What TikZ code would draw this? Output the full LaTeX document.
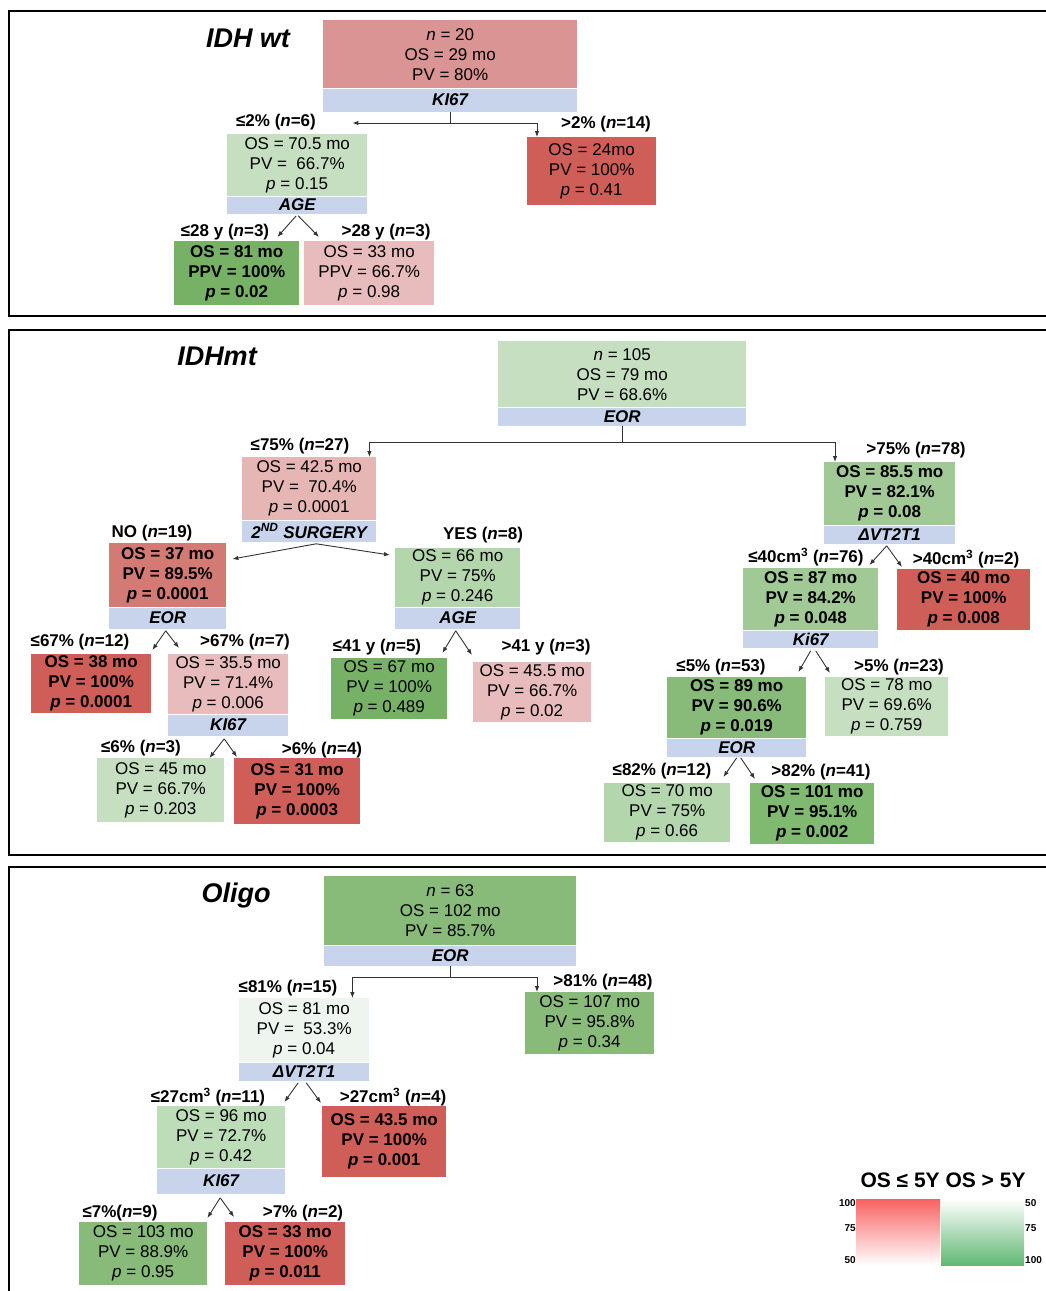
\documentclass[tikz,border=0pt]{standalone}
\usepackage{fontspec}
\setmainfont{Liberation Sans}
\usetikzlibrary{positioning,arrows.meta}

\definecolor{bandblue}{HTML}{C8D4EC}
\definecolor{rosy}{HTML}{DA9494}
\definecolor{redA}{HTML}{CF5E58}
\definecolor{redB}{HTML}{D47A74}
\definecolor{pinkA}{HTML}{E8BCBC}
\definecolor{pinkB}{HTML}{E6B6B5}
\definecolor{greenL}{HTML}{C6DFC1}
\definecolor{greenM}{HTML}{B3D6AC}
\definecolor{greenA}{HTML}{A1C995}
\definecolor{greenB}{HTML}{88BB7A}
\definecolor{greenC}{HTML}{76B166}
\definecolor{greenD}{HTML}{80B970}
\definecolor{greenE}{HTML}{BDDCB8}
\definecolor{mint}{HTML}{EEF5EF}
\definecolor{legRed}{HTML}{F86262}
\definecolor{legGreen}{HTML}{60B873}

\begin{document}
\begin{tikzpicture}[x=1pt, y=-1pt,
    cell/.style={anchor=north west, inner sep=0pt, align=center, font=\fontsize{17}{20}\selectfont},
    cellb/.style={cell, font=\fontsize{17}{20}\selectfont\bfseries},
    band/.style={fill=bandblue, inner sep=0pt, minimum height=18pt, font=\fontsize{17}{20}\selectfont\bfseries\itshape},
    lbl/.style={inner sep=0pt, font=\fontsize{17}{20}\selectfont\bfseries},
    ttl/.style={inner sep=0pt, font=\fontsize{27}{30}\selectfont\bfseries\itshape},
    num/.style={inner sep=0pt, font=\fontsize{10}{12}\selectfont\bfseries},
    arr/.style={-{Latex[length=6pt,width=4.5pt]}, draw=black!80, line width=0.9pt},
    frm/.style={draw=black, line width=1.8pt}]
\useasboundingbox (0,0) rectangle (1046,1291);

% IDH wt
\draw[frm] (9,11) rectangle (1060,316);
\node[ttl] (wtT) at (248,38) {IDH wt};
\node[cell, fill=rosy, minimum width=254pt, minimum height=68pt] (wt) at (323,20) {\textit{n} = 20\\OS = 29 mo\\PV = 80\%};
\node[band, minimum width=254pt, minimum height=23pt, below=0pt of wt] (wtK) {KI67};
\node[cell, fill=greenL, minimum width=140pt, minimum height=62pt] (wtA) at (227,134) {OS = 70.5 mo\\PV = \ 66.7\%\\\textit{p} = 0.15};
\node[band, minimum width=140pt, minimum height=17pt, below=0pt of wtA] (wtAge) {AGE};
\node[cell, fill=redA, minimum width=129pt, minimum height=68pt] (wtB) at (527,137) {OS = 24mo\\PV = 100\%\\\textit{p} = 0.41};
\node[cellb, fill=greenC, minimum width=125pt, minimum height=64pt] (wtA1) at (174,241) {OS = 81 mo\\PPV = 100\%\\\textit{p} = 0.02};
\node[cell, fill=pinkA, minimum width=130pt, minimum height=64pt] (wtA2) at (304,241) {OS = 33 mo\\PPV = 66.7\%\\\textit{p} = 0.98};
\node[lbl] (lwtA) at (276,122) {≤2\% (\textit{n}=6)};
\node[lbl] (lwtB) at (606,124) {>2\% (\textit{n}=14)};
\node[lbl] (lwtA1) at (225,232) {≤28 y (\textit{n}=3)};
\node[lbl] (lwtA2) at (386,232) {>28 y (\textit{n}=3)};
\draw[arr] (wtK.south) |- ([xshift=-15pt,yshift=11pt]wtA.north east);
\draw[arr] (wtK.south) -- ++(0,12) -| ([xshift=10pt]wtB.north west);
\draw[arr] ([xshift=-1pt,yshift=-2pt]wtAge.south) -- ([xshift=-22pt,yshift=4pt]wtA1.north east);
\draw[arr] ([xshift=1pt,yshift=-2pt]wtAge.south) -- ([xshift=15pt,yshift=4pt]wtA2.north west);

% IDHmt
\draw[frm] (9,330) rectangle (1060,855);
\node[ttl] (mtT) at (217,356) {IDHmt};
\node[cell, fill=greenL, minimum width=248pt, minimum height=66pt] (mt) at (498,341) {\textit{n} = 105\\OS = 79 mo\\PV = 68.6\%};
\node[band, minimum width=248pt, below=0pt of mt] (mtE) {EOR};
% low resection
\node[cell, fill=pinkB, minimum width=134pt, minimum height=63pt] (mtA) at (242,457) {OS = 42.5 mo\\PV = \ 70.4\%\\\textit{p} = 0.0001};
\node[band, minimum width=134pt, minimum height=21pt, below=0pt of mtA] (mtS) {2\textsuperscript{ND} SURGERY};
\node[cellb, fill=redB, minimum width=117pt, minimum height=64pt] (mtNo) at (109,543) {OS = 37 mo\\PV = 89.5\%\\\textit{p} = 0.0001};
\node[band, minimum width=117pt, minimum height=21pt, below=0pt of mtNo] (mtNoE) {EOR};
\node[cell, fill=greenM, minimum width=125pt, minimum height=59pt] (mtYes) at (395,548) {OS = 66 mo\\PV = 75\%\\\textit{p} = 0.246};
\node[band, minimum width=125pt, minimum height=21pt, below=0pt of mtYes] (mtYesA) {AGE};
\node[cellb, fill=redA, minimum width=120pt, minimum height=59pt] (mtNo1) at (31,654) {OS = 38 mo\\PV = 100\%\\\textit{p} = 0.0001};
\node[cell, fill=pinkA, minimum width=120pt, minimum height=60pt] (mtNo2) at (168,654) {OS = 35.5 mo\\PV = 71.4\%\\\textit{p} = 0.006};
\node[band, minimum width=120pt, minimum height=21pt, below=0pt of mtNo2] (mtNoK) {KI67};
\node[cell, fill=greenL, minimum width=127pt, minimum height=64pt] (mtK1) at (97,758) {OS = 45 mo\\PV = 66.7\%\\\textit{p} = 0.203};
\node[cellb, fill=redA, minimum width=126pt, minimum height=66pt] (mtK2) at (234,758) {OS = 31 mo\\PV = 100\%\\\textit{p} = 0.0003};
\node[cell, fill=greenC, minimum width=116pt, minimum height=61pt] (mtY1) at (331,658) {OS = 67 mo\\PV = 100\%\\\textit{p} = 0.489};
\node[cell, fill=pinkA, minimum width=118pt, minimum height=60pt] (mtY2) at (473,662) {OS = 45.5 mo\\PV = 66.7\%\\\textit{p} = 0.02};
% high resection
\node[cellb, fill=greenA, minimum width=131pt, minimum height=63pt] (mtB) at (824,462) {OS = 85.5 mo\\PV = 82.1\%\\\textit{p} = 0.08};
\node[band, minimum width=131pt, below=0pt of mtB] (mtV) {ΔVT2T1};
\node[cellb, fill=greenA, minimum width=135pt, minimum height=62pt] (mtV1) at (743,568) {OS = 87 mo\\PV = 84.2\%\\\textit{p} = 0.048};
\node[band, minimum width=135pt, minimum height=17pt, below=0pt of mtV1] (mtVK) {Ki67};
\node[cellb, fill=redA, minimum width=133pt, minimum height=61pt] (mtV2) at (897,569) {OS = 40 mo\\PV = 100\%\\\textit{p} = 0.008};
\node[cellb, fill=greenB, minimum width=139pt, minimum height=61pt] (mtK5) at (667,677) {OS = 89 mo\\PV = 90.6\%\\\textit{p} = 0.019};
\node[band, minimum width=139pt, below=0pt of mtK5] (mtK5E) {EOR};
\node[cell, fill=greenL, minimum width=123pt, minimum height=59pt] (mtK6) at (825,677) {OS = 78 mo\\PV = 69.6\%\\\textit{p} = 0.759};
\node[cell, fill=greenM, minimum width=126pt, minimum height=59pt] (mtE1) at (604,783) {OS = 70 mo\\PV = 75\%\\\textit{p} = 0.66};
\node[cellb, fill=greenD, minimum width=124pt, minimum height=61pt] (mtE2) at (750,783) {OS = 101 mo\\PV = 95.1\%\\\textit{p} = 0.002};
\node[lbl] (lmtA) at (300,446) {≤75\% (\textit{n}=27)};
\node[lbl] (lmtB) at (916,450) {>75\% (\textit{n}=78)};
\node[lbl] (lmtNo) at (152,533) {NO (\textit{n}=19)};
\node[lbl] (lmtYes) at (483,535) {YES (\textit{n}=8)};
\node[lbl] (lmtNo1) at (80,642) {≤67\% (\textit{n}=12)};
\node[lbl] (lmtNo2) at (245,642) {>67\% (\textit{n}=7)};
\node[lbl] (lmtK1) at (141,748) {≤6\% (\textit{n}=3)};
\node[lbl] (lmtK2) at (322,750) {>6\% (\textit{n}=4)};
\node[lbl] (lmtY1) at (377,647) {≤41 y (\textit{n}=5)};
\node[lbl] (lmtY2) at (546,647) {>41 y (\textit{n}=3)};
\node[lbl] (lmtV1) at (806,557) {≤40cm\textsuperscript{3} (\textit{n}=76)};
\node[lbl] (lmtV2) at (966,559) {>40cm\textsuperscript{3} (\textit{n}=2)};
\node[lbl] (lmtK5) at (721,667) {≤5\% (\textit{n}=53)};
\node[lbl] (lmtK6) at (899,667) {>5\% (\textit{n}=23)};
\node[lbl] (lmtE1) at (662,771) {≤82\% (\textit{n}=12)};
\node[lbl] (lmtE2) at (821,772) {>82\% (\textit{n}=41)};
\draw[arr] (mtE.south) -- ++(0,17) -| ([xshift=-7pt]mtA.north east);
\draw[arr] (mtE.south) -- ++(0,17) -| ([xshift=11pt]mtB.north west);
\draw[arr] ([xshift=7pt,yshift=-2pt]mtS.south) -- ([xshift=6pt,yshift=-16pt]mtNo.north east);
\draw[arr] ([xshift=7pt,yshift=-2pt]mtS.south) -- ([xshift=-5pt,yshift=-7pt]mtYes.north west);
\draw[arr] ([xshift=-2pt,yshift=-2pt]mtNoE.south) -- ([xshift=1pt,yshift=4pt]mtNo1.north east);
\draw[arr] ([xshift=-2pt,yshift=-2pt]mtNoE.south) -- ([xshift=11pt,yshift=6pt]mtNo2.north west);
\draw[arr] ([xshift=-4pt,yshift=-3pt]mtNoK.south) -- ([xshift=-15pt]mtK1.north east);
\draw[arr] ([xshift=-4pt,yshift=-3pt]mtNoK.south) -- ([xshift=3pt,yshift=1pt]mtK2.north west);
\draw[arr] ([xshift=-2pt,yshift=-2pt]mtYesA.south) -- ([xshift=-5pt,yshift=5pt]mtY1.north east);
\draw[arr] ([xshift=-2pt,yshift=-2pt]mtYesA.south) -- ([xshift=-1pt,yshift=7pt]mtY2.north west);
\draw[arr] ([xshift=-3pt,yshift=-2pt]mtV.south) -- ([xshift=-9pt,yshift=3pt]mtV1.north east);
\draw[arr] ([xshift=-3pt,yshift=-2pt]mtV.south) -- ([xshift=5pt,yshift=2pt]mtV2.north west);
\draw[arr] ([yshift=-3pt]mtVK.south) -- ([xshift=-8pt,yshift=5pt]mtK5.north east);
\draw[arr] ([xshift=5pt,yshift=-3pt]mtVK.south) -- ([xshift=5pt,yshift=4pt]mtK6.north west);
\draw[arr] ([yshift=-1pt]mtK5E.south) -- ([xshift=-7pt,yshift=6pt]mtE1.north east);
\draw[arr] ([xshift=4pt,yshift=-1pt]mtK5E.south) -- ([xshift=5pt,yshift=4pt]mtE2.north west);

% Oligo
\draw[frm] (9,867) rectangle (1060,1300);
\node[ttl] (olT) at (236,896) {Oligo};
\node[cell, fill=greenB, minimum width=252pt, minimum height=69pt] (ol) at (324,876) {\textit{n} = 63\\OS = 102 mo\\PV = 85.7\%};
\node[band, minimum width=252pt, minimum height=20pt, below=0pt of ol] (olE) {EOR};
\node[cell, fill=mint, minimum width=130pt, minimum height=64pt] (olA) at (239,998) {OS = 81 mo\\PV = \ 53.3\%\\\textit{p} = 0.04};
\node[band, minimum width=130pt, below=0pt of olA] (olV) {ΔVT2T1};
\node[cell, fill=greenB, minimum width=129pt, minimum height=62pt] (olB) at (525,992) {OS = 107 mo\\PV = 95.8\%\\\textit{p} = 0.34};
\node[cell, fill=greenE, minimum width=128pt, minimum height=62pt] (olV1) at (157,1106) {OS = 96 mo\\PV = 72.7\%\\\textit{p} = 0.42};
\node[band, minimum width=128pt, minimum height=25pt, below=0pt of olV1] (olK) {KI67};
\node[cellb, fill=redA, minimum width=124pt, minimum height=71pt] (olV2) at (322,1106) {OS = 43.5 mo\\PV = 100\%\\\textit{p} = 0.001};
\node[cell, fill=greenB, minimum width=128pt, minimum height=63pt] (olK1) at (79,1222) {OS = 103 mo\\PV = 88.9\%\\\textit{p} = 0.95};
\node[cellb, fill=redA, minimum width=120pt, minimum height=63pt] (olK2) at (225,1222) {OS = 33 mo\\PV = 100\%\\\textit{p} = 0.011};
\node[lbl] (lolA) at (288,988) {≤81\% (\textit{n}=15)};
\node[lbl] (lolB) at (603,982) {>81\% (\textit{n}=48)};
\node[lbl] (lolV1) at (208,1097) {≤27cm\textsuperscript{3} (\textit{n}=11)};
\node[lbl] (lolV2) at (393,1097) {>27cm\textsuperscript{3} (\textit{n}=4)};
\node[lbl] (lolK1) at (120,1213) {≤7\%(\textit{n}=9)};
\node[lbl] (lolK2) at (303,1213) {>7\% (\textit{n}=2)};
\draw[arr] (olE.south) -- ++(0,12) -| ([xshift=-17pt]olA.north east);
\draw[arr] (olE.south) -- ++(0,12) -| ([xshift=12pt]olB.north west);
\draw[arr] ([xshift=-6pt,yshift=-2pt]olV.south) -- ([xshift=-1pt,yshift=4pt]olV1.north east);
\draw[arr] ([xshift=2pt,yshift=-2pt]olV.south) -- ([xshift=-1pt,yshift=3pt]olV2.north west);
\draw[arr] ([xshift=-1pt,yshift=-4pt]olK.south) -- ([yshift=4pt]olK1.north east);
\draw[arr] ([xshift=-1pt,yshift=-4pt]olK.south) -- ([xshift=9pt,yshift=5pt]olK2.north west);

% legend
\node[inner sep=0pt, font=\fontsize{21}{24}\selectfont\bfseries] (lgT) at (943,1180) {OS ≤ 5Y OS > 5Y};
\node[anchor=north west, inner sep=0pt, minimum width=84pt, minimum height=66pt, top color=legRed, bottom color=white] (lgR) at (856,1199) {};
\node[anchor=north west, inner sep=0pt, minimum width=83pt, minimum height=66pt, top color=white, bottom color=legGreen] (lgG) at (941,1199) {};
\node[num, anchor=east] (lgR1) at (856,1203) {100};
\node[num, anchor=east] (lgR2) at (856,1228) {75};
\node[num, anchor=east] (lgR3) at (856,1260) {50};
\node[num, anchor=west] (lgG1) at (1025,1203) {50};
\node[num, anchor=west] (lgG2) at (1025,1228) {75};
\node[num, anchor=west] (lgG3) at (1025,1260) {100};
\end{tikzpicture}
\end{document}
